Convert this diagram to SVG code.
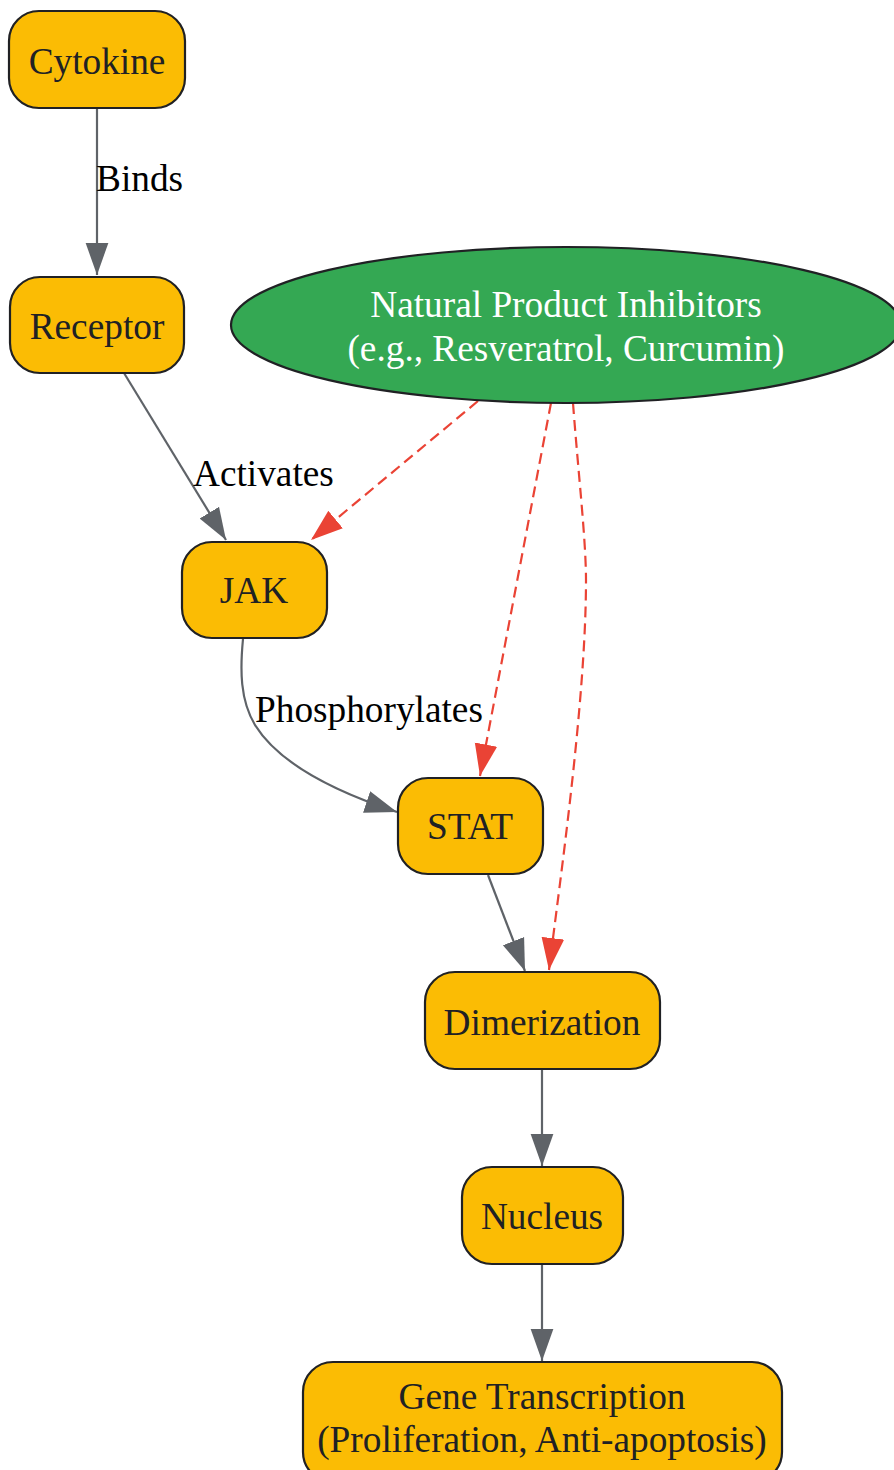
<svg xmlns="http://www.w3.org/2000/svg" width="894" height="1470" viewBox="0 0 894 1470">
<style>
.node rect{fill:#fbbc04;stroke:#202124;stroke-width:2.2}
.node text{font-family:"Liberation Serif",serif;font-size:37.3px;fill:#202124;text-anchor:middle}
.lbl{font-family:"Liberation Serif",serif;font-size:37.3px;fill:#000}
.e{fill:none;stroke:#5f6368;stroke-width:2.2;marker-end:url(#ag)}
.d{fill:none;stroke:#ea4335;stroke-width:2.2;stroke-dasharray:11,6;marker-end:url(#ar)}
</style>
<defs>
<marker id="ag" markerUnits="userSpaceOnUse" markerWidth="32" markerHeight="24" viewBox="0 0 31 22" refX="31" refY="11" orient="auto"><path d="M0,0L31,11L0,22z" fill="#5f6368"/></marker>
<marker id="ar" markerUnits="userSpaceOnUse" markerWidth="32" markerHeight="24" viewBox="0 0 31 22" refX="31" refY="11" orient="auto"><path d="M0,0L31,11L0,22z" fill="#ea4335"/></marker>
</defs>
<rect width="894" height="1470" fill="#fff"/>
<g id="edges">
<path class="e" d="M97,108L97,275"/>
<text class="lbl" x="96" y="191">Binds</text>
<path class="e" d="M124,373L226,540"/>
<text class="lbl" x="193" y="486">Activates</text>
<path class="e" d="M243,639C240,670 240,700 255,725C278,762 330,790 397,812"/>
<text class="lbl" x="255" y="722">Phosphorylates</text>
<path class="e" d="M488,875L525,971"/>
<path class="e" d="M542,1069L542,1166"/>
<path class="e" d="M542,1264L542,1361"/>
<path class="d" d="M478,401L311,540"/>
<path class="d" d="M551,403L480,776"/>
<path class="d" d="M573,403C578,470 586,540 586,580C586,700 560,880 549,970"/>
</g>
<g id="cytokine" class="node"><rect x="9" y="11" width="176" height="97" rx="30"/><text x="97" y="74">Cytokine</text></g>
<g id="receptor" class="node"><rect x="10" y="277" width="174" height="96" rx="30"/><text x="97" y="339">Receptor</text></g>
<g id="inhibitors"><ellipse cx="566" cy="325" rx="335" ry="78" fill="#34a853" stroke="#202124" stroke-width="2.2"/><text x="566" y="317" font-family="Liberation Serif,serif" font-size="37.3" fill="#fff" text-anchor="middle">Natural Product Inhibitors</text><text x="566" y="361" font-family="Liberation Serif,serif" font-size="37.3" fill="#fff" text-anchor="middle">(e.g., Resveratrol, Curcumin)</text></g>
<g id="jak" class="node"><rect x="182" y="542" width="145" height="96" rx="30"/><text x="254" y="603">JAK</text></g>
<g id="stat" class="node"><rect x="398" y="778" width="145" height="96" rx="30"/><text x="470" y="839">STAT</text></g>
<g id="dimerization" class="node"><rect x="425" y="972" width="235" height="97" rx="30"/><text x="542" y="1035">Dimerization</text></g>
<g id="nucleus" class="node"><rect x="462" y="1167" width="161" height="97" rx="30"/><text x="542" y="1229">Nucleus</text></g>
<g id="gene" class="node"><rect x="303" y="1362" width="479" height="120" rx="30"/><text x="542" y="1409">Gene Transcription</text><text x="542" y="1452">(Proliferation, Anti-apoptosis)</text></g>
</svg>
